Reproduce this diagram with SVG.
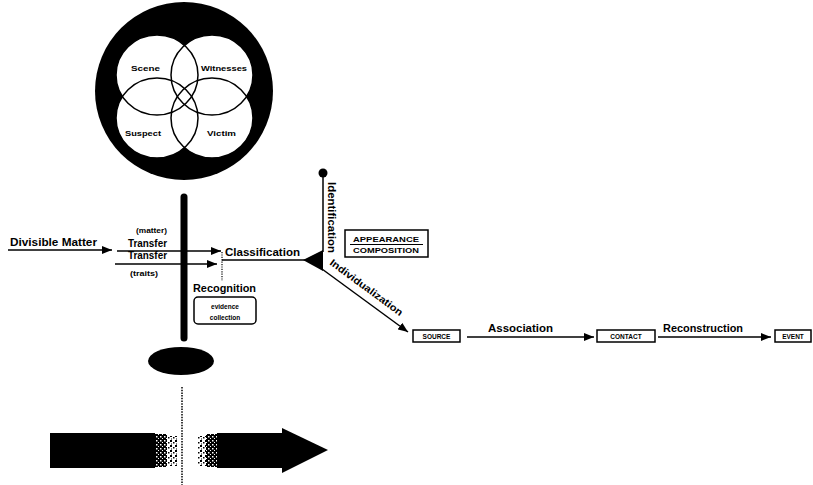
<svg xmlns="http://www.w3.org/2000/svg" width="813" height="485" viewBox="0 0 813 485">
<defs>
<style>
text{font-family:"Liberation Sans","DejaVu Sans",sans-serif;font-weight:bold;fill:#000}
.lbl{font-size:10px}
.sm{font-size:6.5px}
.box{fill:#fff;stroke:#000;stroke-width:1.5}
.ln{stroke:#000;stroke-width:1.5;fill:none}
.ven{fill:none;stroke:#000;stroke-width:1.5}
</style>
<marker id="ah" viewBox="0 0 10 8" refX="10" refY="4" markerWidth="10" markerHeight="8" markerUnits="userSpaceOnUse" orient="auto">
<path d="M0,0 L10,4 L0,8 Z" fill="#000"/>
</marker>
<pattern id="spk" width="4" height="4" patternUnits="userSpaceOnUse">
<rect width="4" height="4" fill="#000"/>
<rect x="0" y="0" width="1.5" height="1.5" fill="#fff"/>
<rect x="2" y="2" width="1" height="1" fill="#fff"/>
</pattern>
<pattern id="spk2" width="5" height="5" patternUnits="userSpaceOnUse">
<rect width="5" height="5" fill="#fff"/>
<rect x="0" y="0" width="2" height="2" fill="#000"/>
<rect x="3" y="2" width="1.5" height="1.5" fill="#000"/>
<rect x="1" y="3.5" width="1" height="1" fill="#000"/>
</pattern>
</defs>

<g id="venn">
<circle cx="184" cy="91" r="89" fill="#000"/>
<ellipse cx="157" cy="75" rx="41" ry="40" fill="#fff"/>
<ellipse cx="212" cy="75" rx="41" ry="40" fill="#fff"/>
<ellipse cx="157" cy="118" rx="41" ry="40" fill="#fff"/>
<ellipse cx="212" cy="118" rx="41" ry="40" fill="#fff"/>
<ellipse class="ven" cx="157" cy="75" rx="41" ry="40"/>
<ellipse class="ven" cx="212" cy="75" rx="41" ry="40"/>
<ellipse class="ven" cx="157" cy="118" rx="41" ry="40"/>
<ellipse class="ven" cx="212" cy="118" rx="41" ry="40"/>
<text class="sm" x="131" y="71" font-size="7" textLength="29" lengthAdjust="spacingAndGlyphs">Scene</text>
<text class="sm" x="201" y="71" font-size="7" textLength="46" lengthAdjust="spacingAndGlyphs">Witnesses</text>
<text class="sm" x="125" y="136" font-size="7" textLength="36" lengthAdjust="spacingAndGlyphs">Suspect</text>
<text class="sm" x="207" y="136" font-size="7" textLength="29" lengthAdjust="spacingAndGlyphs">Victim</text>
</g>

<g id="bar">
<line x1="184" y1="197" x2="184" y2="338" stroke="#000" stroke-width="7" stroke-linecap="round"/>
<ellipse cx="181" cy="361" rx="33" ry="14" fill="#000"/>
</g>

<g id="connectors">
<line class="ln" x1="8" y1="250" x2="112" y2="250" marker-end="url(#ah)"/>
<line class="ln" x1="117" y1="251" x2="221" y2="251" marker-end="url(#ah)"/>
<line class="ln" x1="115" y1="264" x2="217" y2="264" marker-end="url(#ah)"/>
<line x1="222" y1="252" x2="222" y2="281" stroke="#000" stroke-width="1.2" stroke-dasharray="1.2,1.2"/>
<line class="ln" x1="222" y1="260" x2="306" y2="260"/>
<polygon points="303,260 323,250 323,271" fill="#000"/>
<line class="ln" x1="323" y1="173" x2="323" y2="252"/>
<circle cx="323" cy="173" r="4.5" fill="#000"/>
<line class="ln" x1="322" y1="269" x2="408" y2="332" marker-end="url(#ah)"/>
<line class="ln" x1="467" y1="337" x2="594" y2="337" marker-end="url(#ah)"/>
<line class="ln" x1="658" y1="337" x2="771" y2="337" marker-end="url(#ah)"/>
<line x1="182" y1="387" x2="182" y2="485" stroke="#000" stroke-width="1.5" stroke-dasharray="1.5,1.2"/>
</g>

<g id="divisible">
<text class="lbl" x="10" y="246" textLength="87" lengthAdjust="spacingAndGlyphs">Divisible Matter</text>
</g>
<g id="transfer-matter">
<text class="sm" x="136" y="233" textLength="31" lengthAdjust="spacingAndGlyphs">(matter)</text>
<text class="lbl" x="128" y="247" textLength="39" lengthAdjust="spacingAndGlyphs">Transfer</text>
</g>
<g id="transfer-traits">
<text class="lbl" x="128" y="259" textLength="39" lengthAdjust="spacingAndGlyphs">Transfer</text>
<text class="sm" x="130" y="276" textLength="28" lengthAdjust="spacingAndGlyphs">(traits)</text>
</g>
<g id="classification">
<text class="lbl" x="225" y="256" font-size="11" textLength="75" lengthAdjust="spacingAndGlyphs">Classification</text>
</g>
<g id="recognition">
<text class="lbl" x="193" y="292" textLength="63" lengthAdjust="spacingAndGlyphs">Recognition</text>
<rect class="box" x="194" y="297" width="62" height="27" rx="4"/>
<text class="sm" x="225" y="309" font-size="7.5" text-anchor="middle">evidence</text>
<text class="sm" x="225" y="320" font-size="7.5" text-anchor="middle">collection</text>
</g>
<g id="identification">
<text class="lbl" transform="translate(328,182) rotate(90)" textLength="71" lengthAdjust="spacingAndGlyphs">Identification</text>
</g>
<g id="appearance">
<rect class="box" x="345" y="230" width="83" height="27"/>
<text class="sm" x="386" y="242" font-size="7" text-anchor="middle" textLength="66" lengthAdjust="spacingAndGlyphs">APPEARANCE</text>
<line x1="350" y1="244.5" x2="423" y2="244.5" stroke="#000" stroke-width="1.2"/>
<text class="sm" x="386" y="253" font-size="7" text-anchor="middle" textLength="66" lengthAdjust="spacingAndGlyphs">COMPOSITION</text>
</g>
<g id="individualization">
<text class="lbl" transform="translate(329,264) rotate(36.5)" textLength="88" lengthAdjust="spacingAndGlyphs">Individualization</text>
</g>
<g id="source">
<rect class="box" x="413" y="330" width="47" height="12"/>
<text class="sm" x="436.5" y="339" font-size="7" text-anchor="middle">SOURCE</text>
</g>
<g id="association">
<text class="lbl" x="488" y="332" textLength="65" lengthAdjust="spacingAndGlyphs">Association</text>
</g>
<g id="contact">
<rect class="box" x="597" y="330" width="58" height="12"/>
<text class="sm" x="626" y="339" font-size="7" text-anchor="middle">CONTACT</text>
</g>
<g id="reconstruction">
<text class="lbl" x="663" y="332" textLength="80" lengthAdjust="spacingAndGlyphs">Reconstruction</text>
</g>
<g id="event">
<rect class="box" x="775" y="330" width="36" height="12"/>
<text class="sm" x="793" y="339" font-size="7" text-anchor="middle">EVENT</text>
</g>

<g id="time-arrow">
<rect x="50" y="433" width="105" height="35" fill="#000"/>
<rect x="155" y="434" width="12" height="33" fill="url(#spk)"/>
<rect x="167" y="436" width="10" height="30" fill="url(#spk2)"/>
<rect x="197" y="436" width="9" height="30" fill="url(#spk2)"/>
<rect x="206" y="434" width="11" height="33" fill="url(#spk)"/>
<rect x="217" y="433" width="66" height="35" fill="#000"/>
<polygon points="282,428 328,450 282,473" fill="#000"/>
</g>
</svg>
